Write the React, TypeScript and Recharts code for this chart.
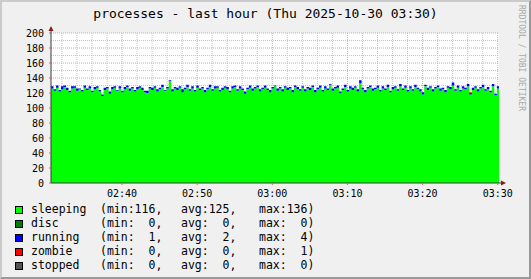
import React from 'react';
import { AreaChart, Area, XAxis, YAxis, CartesianGrid, ReferenceDot } from 'recharts';

// samples every 20s
const sleeping = [
  126, 123, 127, 122, 125, 128, 124, 121, 126, 127, 123, 125, 122, 127, 124, 126, 121, 125, 127, 122,
  116, 124, 126, 119, 125, 127, 123, 126, 121, 125, 128, 123, 126, 122, 125, 127, 124, 121, 120, 126,
  124, 127, 122, 125, 128, 123, 126, 136, 122, 126, 124, 127, 121, 125, 128, 123, 126, 122, 127, 124,
  126, 121, 125, 128, 123, 126, 127, 122, 124, 127, 125, 121, 126, 128, 123, 126, 124, 119, 125, 127,
  123, 126, 128, 122, 125, 127, 124, 121, 126, 129, 123, 126, 122, 127, 124, 126, 121, 128, 125, 123,
  127, 122, 126, 124, 128, 121, 125, 127, 122, 126, 124, 131, 123, 126, 127, 120, 124, 128, 122, 126,
  124, 127, 122, 133, 125, 121, 126, 128, 123, 125, 127, 122, 126, 124, 128, 121, 125, 127, 123, 129,
  124, 127, 122, 126, 123, 128, 125, 122, 118, 129, 124, 127, 122, 126, 128, 123, 125, 121, 127, 125,
  130, 123, 127, 122, 126, 125, 129, 118, 124, 127, 122, 126, 128, 123, 125, 121, 129, 117, 126, 125,
];

const disc = [
  0, 0, 0, 0, 0, 0, 0, 0, 0, 0, 0, 0, 0, 0, 0, 0, 0, 0, 0, 0,
  0, 0, 0, 0, 0, 0, 0, 0, 0, 0, 0, 0, 0, 0, 0, 0, 0, 0, 0, 0,
  0, 0, 0, 0, 0, 0, 0, 0, 0, 0, 0, 0, 0, 0, 0, 0, 0, 0, 0, 0,
  0, 0, 0, 0, 0, 0, 0, 0, 0, 0, 0, 0, 0, 0, 0, 0, 0, 0, 0, 0,
  0, 0, 0, 0, 0, 0, 0, 0, 0, 0, 0, 0, 0, 0, 0, 0, 0, 0, 0, 0,
  0, 0, 0, 0, 0, 0, 0, 0, 0, 0, 0, 0, 0, 0, 0, 0, 0, 0, 0, 0,
  0, 0, 0, 0, 0, 0, 0, 0, 0, 0, 0, 0, 0, 0, 0, 0, 0, 0, 0, 0,
  0, 0, 0, 0, 0, 0, 0, 0, 0, 0, 0, 0, 0, 0, 0, 0, 0, 0, 0, 0,
  0, 0, 0, 0, 0, 0, 0, 0, 0, 0, 0, 0, 0, 0, 0, 0, 0, 0, 0, 0,
];

const running = [
  3, 2, 3, 2, 4, 2, 3, 2, 3, 2, 3, 1, 2, 3, 2, 3, 2, 3, 2, 2,
  2, 3, 2, 3, 3, 2, 1, 3, 2, 3, 2, 3, 2, 2, 3, 2, 3, 2, 3, 2,
  3, 2, 3, 2, 3, 1, 2, 1, 3, 2, 3, 2, 4, 2, 3, 2, 3, 2, 3, 2,
  2, 3, 2, 3, 2, 3, 2, 2, 3, 2, 3, 2, 3, 2, 2, 3, 2, 3, 2, 3,
  3, 2, 2, 3, 2, 3, 2, 3, 2, 1, 3, 2, 3, 2, 3, 2, 3, 2, 3, 2,
  2, 3, 2, 3, 2, 3, 2, 3, 2, 3, 2, 1, 3, 2, 3, 2, 2, 3, 2, 3,
  3, 2, 3, 4, 2, 3, 2, 2, 3, 2, 3, 2, 3, 2, 3, 2, 3, 2, 2, 3,
  2, 3, 2, 3, 2, 3, 2, 3, 3, 2, 3, 2, 3, 2, 2, 3, 2, 3, 2, 3,
  4, 2, 3, 2, 3, 2, 3, 2, 3, 2, 3, 2, 3, 2, 3, 2, 3, 2, 3, 2,
];

const zombie = [
  0, 0, 0, 0, 0, 0, 0, 0, 0, 0, 0, 0, 0, 0, 0, 0, 0, 0, 0, 0,
  0, 0, 0, 0, 0, 0, 0, 0, 0, 0, 0, 0, 0, 0, 0, 0, 0, 0, 0, 0,
  0, 0, 0, 0, 0, 0, 0, 0, 0, 0, 0, 0, 0, 0, 0, 0, 0, 0, 0, 0,
  0, 0, 0, 0, 0, 0, 0, 0, 0, 0, 0, 0, 0, 0, 0, 0, 0, 0, 0, 0,
  0, 0, 0, 0, 0, 0, 0, 0, 0, 0, 0, 0, 0, 0, 0, 0, 0, 0, 0, 0,
  0, 0, 0, 0, 0, 0, 0, 0, 0, 0, 0, 0, 0, 0, 0, 0, 0, 0, 0, 0,
  0, 0, 0, 0, 0, 0, 0, 0, 0, 0, 0, 0, 0, 0, 0, 0, 0, 0, 0, 0,
  0, 0, 0, 0, 0, 0, 0, 0, 0, 0, 0, 0, 0, 0, 0, 0, 0, 0, 0, 0,
  0, 0, 0, 0, 0, 0, 0, 1, 0, 0, 0, 0, 0, 0, 0, 0, 0, 0, 0, 0,
];

const stopped = [
  0, 0, 0, 0, 0, 0, 0, 0, 0, 0, 0, 0, 0, 0, 0, 0, 0, 0, 0, 0,
  0, 0, 0, 0, 0, 0, 0, 0, 0, 0, 0, 0, 0, 0, 0, 0, 0, 0, 0, 0,
  0, 0, 0, 0, 0, 0, 0, 0, 0, 0, 0, 0, 0, 0, 0, 0, 0, 0, 0, 0,
  0, 0, 0, 0, 0, 0, 0, 0, 0, 0, 0, 0, 0, 0, 0, 0, 0, 0, 0, 0,
  0, 0, 0, 0, 0, 0, 0, 0, 0, 0, 0, 0, 0, 0, 0, 0, 0, 0, 0, 0,
  0, 0, 0, 0, 0, 0, 0, 0, 0, 0, 0, 0, 0, 0, 0, 0, 0, 0, 0, 0,
  0, 0, 0, 0, 0, 0, 0, 0, 0, 0, 0, 0, 0, 0, 0, 0, 0, 0, 0, 0,
  0, 0, 0, 0, 0, 0, 0, 0, 0, 0, 0, 0, 0, 0, 0, 0, 0, 0, 0, 0,
  0, 0, 0, 0, 0, 0, 0, 0, 0, 0, 0, 0, 0, 0, 0, 0, 0, 0, 0, 0,
];

// time in minutes since midnight
const startMinute = 150.55; // 02:30:33
const endMinute = 210.17; // 03:30:10
const stepMinutes = 1 / 3;

const timeTicks = [160, 170, 180, 190, 200, 210];
const minorTimeLines = [152, 154, 156, 158, 162, 164, 166, 168, 172, 174, 176, 178, 182, 184, 186, 188, 192, 194, 196, 198, 202, 204, 206, 208];
const valueTicks = [0, 20, 40, 60, 80, 100, 120, 140, 160, 180, 200];
const minorValueLines = [10, 30, 50, 70, 90, 110, 130, 150, 170, 190];

const seriesKeys = ['sleeping', 'disc', 'running', 'zombie', 'stopped'];
const legendMin = [116, 0, 1, 0, 0];
const legendAvg = [125, 0, 2, 0, 0];
const legendMax = [136, 0, 4, 1, 0];

const title = 'processes - last hour (Thu 2025-10-30 03:30)';
const watermark = 'RRDTOOL / TOBI OETIKER';

const COLORS: Record<string, string> = {
  sleeping: '#00ff00',
  disc: '#008000',
  running: '#0000ff',
  zombie: '#ff0000',
  stopped: '#555555',
};

const MONO = '"DejaVu Sans Mono", monospace';
const AXIS = '#3a3a3a';
const ARROW = '#8b1a1a';
const MGRID = '#f09a9a';
const GRID = '#c4c4c4';

const data = sleeping.map((v, i) => ({
  t: startMinute + i * stepMinutes,
  sleeping: v,
  disc: disc[i],
  running: running[i],
  zombie: zombie[i],
  stopped: stopped[i],
}));

const fmtTime = (m: number) => {
  const h = Math.floor(m / 60);
  const mm = Math.round(m - h * 60);
  return `${String(h).padStart(2, '0')}:${String(mm).padStart(2, '0')}`;
};

const pad3 = (n: number) => String(n).padStart(3, ' ');

const UpArrow = (props: any) => {
  const { cx, cy } = props;
  return (
    <g>
      <line x1={cx} y1={cy} x2={cx} y2={cy - 3} stroke={AXIS} />
      <path d={`M${cx - 2.5},${cy - 2} L${cx + 2.5},${cy - 2} L${cx},${cy - 7} Z`} fill={ARROW} />
    </g>
  );
};

const RightArrow = (props: any) => {
  const { cx, cy } = props;
  return (
    <g>
      <line x1={cx} y1={cy} x2={cx + 3} y2={cy} stroke={AXIS} />
      <path d={`M${cx + 2},${cy - 2.5} L${cx + 2},${cy + 2.5} L${cx + 7},${cy} Z`} fill={ARROW} />
    </g>
  );
};

export default function App() {
  return (
    <div
      style={{
        position: 'absolute',
        left: 0,
        top: 0,
        width: 531,
        height: 279,
        background: '#f0f0f0',
        overflow: 'hidden',
        fontFamily: MONO,
        color: '#000',
      }}
    >
      <div
        style={{
          position: 'absolute',
          left: 0,
          top: 6,
          width: 531,
          textAlign: 'center',
          fontSize: 13,
          lineHeight: '15px',
          whiteSpace: 'pre',
        }}
      >
        {title}
      </div>

      <div
        style={{
          position: 'absolute',
          left: 516,
          top: 5,
          width: 10,
          writingMode: 'vertical-rl',
          fontSize: 8,
          lineHeight: '10px',
          color: '#a8a8a8',
          whiteSpace: 'pre',
        }}
      >
        {watermark}
      </div>

      <div style={{ position: 'absolute', left: 0, top: 0 }}>
        <AreaChart width={531} height={279} data={data} margin={{ top: 33, right: 32, bottom: 76, left: 0 }}>
          <CartesianGrid
            fill="#ffffff"
            stroke={GRID}
            strokeDasharray="1 1"
            horizontalValues={minorValueLines}
            verticalValues={minorTimeLines}
          />
          <CartesianGrid
            stroke={MGRID}
            strokeDasharray="1 1"
            horizontalValues={valueTicks.filter((v) => v > 0)}
            verticalValues={timeTicks}
          />
          <XAxis
            dataKey="t"
            type="number"
            domain={[startMinute, endMinute]}
            allowDataOverflow
            ticks={timeTicks}
            interval={0}
            tickFormatter={fmtTime}
            height={20}
            tickSize={2}
            tickMargin={5}
            tick={{ fontFamily: MONO, fontSize: 10, fill: '#000' }}
            tickLine={{ stroke: '#e06060' }}
            axisLine={{ stroke: AXIS }}
          />
          <YAxis
            type="number"
            domain={[0, 200]}
            ticks={valueTicks}
            interval={0}
            width={51}
            tickSize={2}
            tickMargin={5}
            tick={{ fontFamily: MONO, fontSize: 10, fill: '#000' }}
            tickLine={{ stroke: '#e06060' }}
            axisLine={{ stroke: AXIS }}
          />
          {seriesKeys.map((k) => (
            <Area
              key={k}
              dataKey={k}
              stackId="procs"
              type="stepAfter"
              fill={COLORS[k]}
              fillOpacity={1}
              stroke="none"
              dot={false}
              activeDot={false}
              isAnimationActive={false}
            />
          ))}
          <ReferenceDot x={startMinute} y={200} r={0} shape={UpArrow} />
          <ReferenceDot x={endMinute} y={0} r={0} shape={RightArrow} />
        </AreaChart>
      </div>

      {seriesKeys.map((k, i) => (
        <div
          key={k}
          style={{
            position: 'absolute',
            left: 0,
            top: 202 + i * 14,
            height: 14,
            width: 531,
            fontSize: 11.5,
            lineHeight: '14px',
            whiteSpace: 'pre',
          }}
        >
          <div
            style={{
              position: 'absolute',
              left: 15,
              top: 4,
              width: 8,
              height: 8,
              boxSizing: 'border-box',
              border: '1px solid #000',
              background: COLORS[k],
            }}
          />
          <span style={{ position: 'absolute', left: 31 }}>{k}</span>
          <span style={{ position: 'absolute', left: 100 }}>{`(min:${pad3(legendMin[i])},`}</span>
          <span style={{ position: 'absolute', left: 181 }}>{`avg:${pad3(legendAvg[i])},`}</span>
          <span style={{ position: 'absolute', left: 259 }}>{`max:${pad3(legendMax[i])})`}</span>
        </div>
      ))}

      <div
        style={{
          position: 'absolute',
          left: 0,
          top: 0,
          width: 531,
          height: 279,
          boxSizing: 'border-box',
          borderLeft: '2px solid #cbcbcb',
          borderTop: '2px solid #cbcbcb',
          borderRight: '2px solid #999999',
          borderBottom: '2px solid #999999',
          pointerEvents: 'none',
        }}
      />
    </div>
  );
}
